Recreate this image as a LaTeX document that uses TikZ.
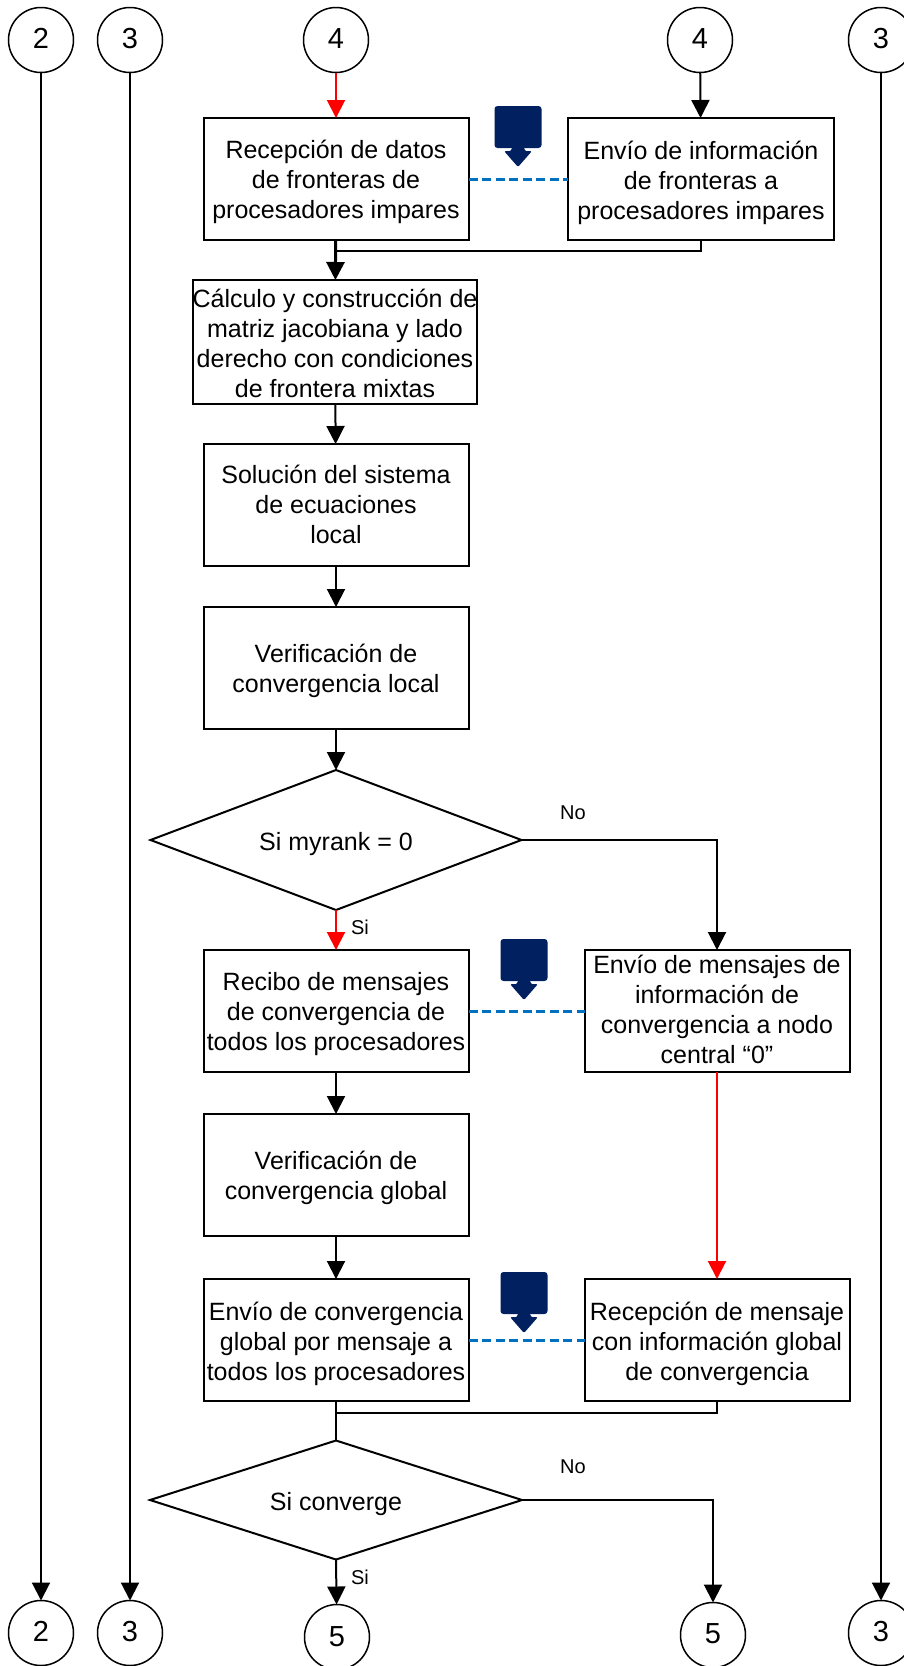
\documentclass[tikz,border=0pt]{standalone}
\usepackage{fontspec}
\setmainfont{Liberation Sans}
\usetikzlibrary{shapes.geometric,arrows.meta}
\definecolor{iconblue}{RGB}{0,32,96}
\definecolor{linkblue}{RGB}{0,112,192}
\newcommand{\tx}[2]{\vbox{\vskip #1\hbox{\begin{tabular}{@{}c@{}}#2\end{tabular}}}}
\tikzset{
  x=1pt,y=-1pt,
  boxnode/.style={draw=black,line width=2pt,rectangle,fill=white,align=center,inner sep=0pt,outer sep=0pt,
    font=\fontsize{25}{30}\selectfont,minimum width=265,minimum height=122},
  circ/.style={draw=black,line width=1.5pt,circle,inner sep=0pt,outer sep=0pt,minimum size=65,font=\fontsize{29}{34}\selectfont},
  dia/.style={draw=black,line width=2pt,diamond,inner sep=0pt,outer sep=0pt,align=center,font=\fontsize{25}{30}\selectfont},
  flow/.style={draw=black,line width=2pt,-{Triangle[length=18pt,width=18pt]}},
  flowred/.style={draw=red,line width=2pt,-{Triangle[length=18pt,width=18pt]}},
  plain/.style={draw=black,line width=2pt},
  link/.style={draw=linkblue,line width=3pt,dash pattern=on 9pt off 4.5pt},
  lab/.style={inner sep=0pt,font=\fontsize{20}{24}\selectfont},
  msgicon/.pic={
    \fill[iconblue,rounded corners=3pt] (-23.5,-33) rectangle (23.5,9);
    \fill[iconblue,rounded corners=2pt] (-6.5,8) -- (6.5,8) -- (6.5,12) -- (14,12) -- (0,28) -- (-14,12) -- (-6.5,12) -- cycle;
  }
}
\begin{document}
\begin{tikzpicture}
\useasboundingbox (0,0) rectangle (904,1666);
% circles
\node[circ] (t2) at (41,40) {\tx{3pt}{2}};
\node[circ] (t3) at (130,40) {\tx{3pt}{3}};
\node[circ] (t4) at (336,40) {\tx{3pt}{4}};
\node[circ] (t4b) at (700,40) {\tx{3pt}{4}};
\node[circ] (t3b) at (881,40) {\tx{3pt}{3}};
\node[circ] (b2) at (41,1633) {\tx{3pt}{2}};
\node[circ] (b3) at (130,1633) {\tx{3pt}{3}};
\node[circ] (b5) at (337,1637) {\tx{5pt}{5}};
\node[circ] (b5b) at (713,1635) {\tx{3pt}{5}};
\node[circ] (b3b) at (881,1633) {\tx{3pt}{3}};
% boxes
\node[boxnode] (recep) at (336,179) {\tx{6.5pt}{Recepción de datos\\de fronteras de\\procesadores impares}};
\node[boxnode,minimum width=266] (envio) at (701,179) {\tx{8pt}{Envío de información\\de fronteras a\\procesadores impares}};
\node[boxnode,minimum width=284,minimum height=124,inner ysep=-6pt] (calc) at (335,342) {\tx{9.5pt}{Cálculo y construcción de\\matriz jacobiana y lado\\derecho con condiciones\\de frontera mixtas}};
\node[boxnode] (sol) at (336,505) {\tx{5pt}{Solución del sistema\\de ecuaciones\\local}};
\node[boxnode] (ver) at (336,668) {\tx{6.5pt}{Verificación de\\convergencia local}};
\node[dia,minimum width=371,minimum height=140,aspect=2.65] (d1) at (336,840) {\tx{8pt}{Si myrank = 0}};
\node[boxnode] (rec) at (336,1011) {\tx{7.5pt}{Recibo de mensajes\\de convergencia de\\todos los procesadores}};
\node[boxnode,inner ysep=-6pt] (envm) at (717,1011) {\tx{2pt}{Envío de mensajes de\\información de\\convergencia a nodo\\central “0”}};
\node[boxnode] (verg) at (336,1175) {\tx{7pt}{Verificación de\\convergencia global}};
\node[boxnode] (envg) at (336,1340) {\tx{8pt}{Envío de convergencia\\global por mensaje a\\todos los procesadores}};
\node[boxnode] (recm) at (717,1340) {\tx{8pt}{Recepción de mensaje\\con información global\\de convergencia}};
\node[dia,minimum width=372,minimum height=119,aspect=3.126] (d2) at (336,1500) {\tx{8pt}{Si converge}};
% junction points
\coordinate (j1) at (336,251);
\coordinate (j2) at (336,1413);
% connectors
\draw[flow] (t2) -- (b2);
\draw[flow] (t3) -- (b3);
\draw[flow] (t3b) -- (b3b);
\draw[flowred] (t4) -- (recep);
\draw[flow] (t4b) -- (envio);
\draw[flow,line width=3pt] (recep) -- (calc);
\draw[plain] (envio.south) |- (j1);
\draw[flow] (calc) -- (sol);
\draw[flow] (sol) -- (ver);
\draw[flow] (ver) -- (d1);
\draw[flowred] (d1) -- (rec);
\draw[flow] (d1.east) -| (envm.north);
\draw[flowred] (envm) -- (recm);
\draw[flow] (rec) -- (verg);
\draw[flow] (verg) -- (envg);
\draw[plain] (envg.south) -- (d2.north);
\draw[plain] (recm.south) |- (j2);
\draw[flow] (d2.south) -- (b5);
\draw[flow] (d2.east) -| (b5b.north);
\draw[link] (recep.east |- envio) -- (envio);
\draw[link] (rec) -- (envm);
\draw[link] (envg) -- (recm);
% message icons
\pic at (518,139) {msgicon};
\pic at (524,972) {msgicon};
\pic at (524,1305) {msgicon};
% labels
\node[lab] (no1) at (573,813) {No};
\node[lab] (si1) at (360,927) {Si};
\node[lab] (no2) at (573,1467) {No};
\node[lab] (si2) at (360,1577) {Si};
\end{tikzpicture}
\end{document}
